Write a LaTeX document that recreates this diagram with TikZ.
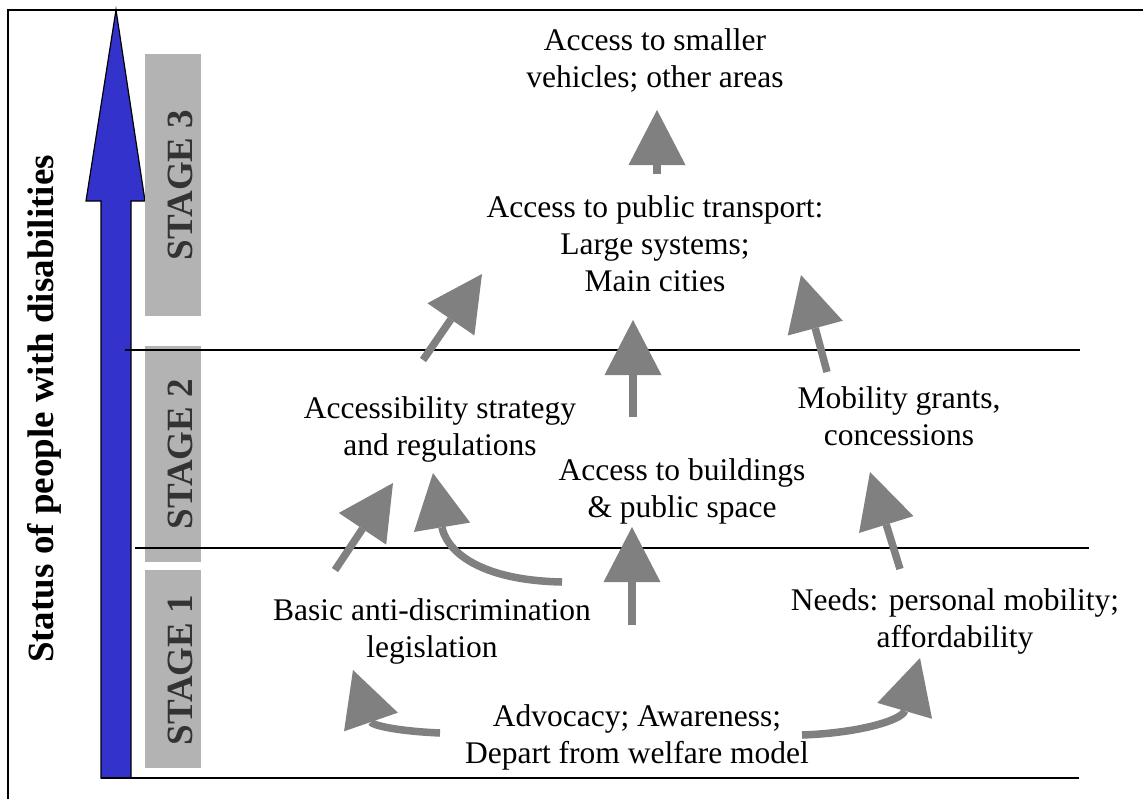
\documentclass[tikz,border=0pt]{standalone}
\usepackage{fontspec}
\setmainfont{Liberation Serif}
\usetikzlibrary{arrows.meta}

\definecolor{stagegray}{RGB}{179,179,179}
\definecolor{stagetext}{RGB}{51,51,51}
\definecolor{flowgray}{RGB}{128,128,128}
\definecolor{statusblue}{RGB}{51,51,204}

\tikzset{
  txt/.style={align=center, inner sep=0pt, anchor=base,
    font=\fontsize{31.5}{37}\selectfont},
  stagelbl/.style={rotate=90, anchor=base, inner sep=0pt, text=stagetext,
    font=\fontsize{37}{42}\selectfont\bfseries},
  flow/.style={draw=flowgray, line width=7.5pt,
    -{Triangle[length=55pt,width=57pt,line width=0pt]}},
  rule/.style={line width=1.3pt}
}

\begin{document}
\begin{tikzpicture}[x=1pt, y=-1pt]
  \useasboundingbox (0,0) rectangle (1143,798);

  % frame
  \begin{scope}
    \clip (0,0) rectangle (1143,798);
    \draw[rule] (8,810) -- (8,10) -- (1160,10);
  \end{scope}

  % status arrow
  \filldraw[fill=statusblue, line width=1.2pt]
    (116,10) -- (145,201) -- (131,201) -- (131,778) -- (101,778)
    -- (101,201) -- (86,201) -- cycle;
  \node[stagelbl, text=black] (status) at (53,409) {Status of people with disabilities};

  % stage bars
  \fill[stagegray] (145,54) rectangle (201,316);
  \node[stagelbl] (s3) at (192,185) {STAGE 3};
  \fill[stagegray] (145,346) rectangle (201,562);
  \node[stagelbl] (s2) at (192,454) {STAGE 2};
  \fill[stagegray] (145,570) rectangle (201,768);
  \node[stagelbl] (s1) at (192,670) {STAGE 1};

  % stage borders
  \draw[rule] (125,350) -- (1080,350);
  \draw[rule] (135,548) -- (1089,548);
  \draw[rule] (101,778) -- (1079,778);

  % Stage 3
  \node[txt] (smaller) at (655,87) {Access to smaller\\vehicles; other areas};
  \node[txt] (public) at (655,291) {Access to public transport:\\Large systems;\\Main cities};

  % Stage 2
  \node[txt] (strat) at (440,455) {Accessibility strategy\\and regulations};
  \node[txt] (bldg) at (682,517) {Access to buildings\\\& public space};
  \node[txt] (grants) at (899,445) {Mobility grants,\\concessions};

  % Stage 1
  \node[txt] (basic) at (432,657) {Basic anti-discrimination\\legislation};
  \node[txt] (needs) at (955,647) {Needs: personal mobility;\\affordability};
  \node[txt] (adv) at (637,763) {Advocacy; Awareness;\\Depart from welfare model};

  % arrows
  \draw[flow] ([shift={(2,-117)}]public.base) -- ([shift={(2,23)}]smaller.base);
  \draw[flow] ([shift={(-17,-95)}]strat.base) -- ([shift={(-173,-17)}]public.base);
  \draw[flow] ([shift={(-49,-100)}]bldg.base) -- ([shift={(-22,29)}]public.base);
  \draw[flow] ([shift={(-72,-73)}]grants.base) -- ([shift={(146,-16)}]public.base);

  \draw[flow] ([shift={(-97,-87)}]basic.base) -- ([shift={(-47,28)}]strat.base);
  \draw[flow] ([shift={(130,-75)}]basic.base) .. controls +(-92,-2) and +(12,72) .. ([shift={(-7,18)}]strat.base);
  \draw[flow] ([shift={(200,-32)}]basic.base) -- ([shift={(-50,10)}]bldg.base);
  \draw[flow] ([shift={(-55,-78)}]needs.base) -- ([shift={(-29,27)}]grants.base);

  \draw[flow] ([shift={(-197,-30)}]adv.base) .. controls +(-45,-2) and +(19,55) .. ([shift={(-79,13)}]basic.base);
  \draw[flow] ([shift={(165,-28)}]adv.base) .. controls +(58,-2) and +(-18,62) .. ([shift={(-35,11)}]needs.base);
\end{tikzpicture}
\end{document}
